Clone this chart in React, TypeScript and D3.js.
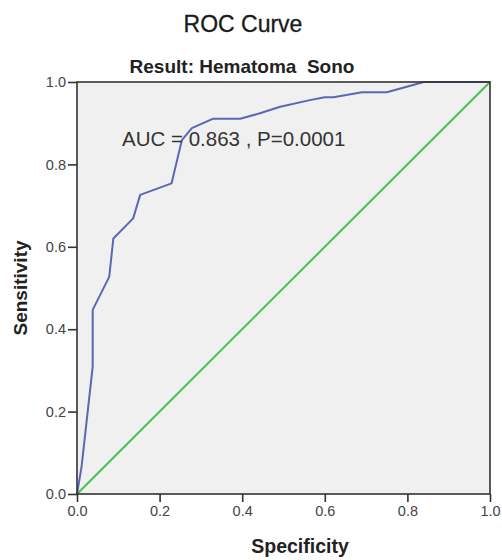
import * as d3 from "d3";
import { useRef, useEffect } from "react";

// ROC curve points (1 - specificity on x, sensitivity on y)
const fpr = [0, 0.011, 0.038, 0.038, 0.078, 0.088, 0.136, 0.153, 0.229, 0.254, 0.278, 0.33, 0.395, 0.443, 0.492, 0.564, 0.6, 0.621, 0.69, 0.75, 0.84, 1.0];
const tpr = [0, 0.066, 0.309, 0.447, 0.527, 0.62, 0.669, 0.726, 0.754, 0.859, 0.888, 0.911, 0.911, 0.924, 0.94, 0.956, 0.963, 0.963, 0.975, 0.975, 1.0, 1.0];
const refX = [0, 1];
const refY = [0, 1];
const ticks = [0, 0.2, 0.4, 0.6, 0.8, 1.0];

const W = 502;
const H = 560;
const FONT = "'Liberation Sans', Arial, sans-serif";

const App = () => {
  const axRef = useRef<SVGGElement>(null);

  const x = d3.scaleLinear().domain([0, 1]).range([77, 490]);
  const y = d3.scaleLinear().domain([0, 1]).range([494, 82]);

  const line = d3.line<number>()
    .x((d, i) => x(fpr[i]))
    .y(d => y(d));
  const refLine = d3.line<number>()
    .x((d, i) => x(refX[i]))
    .y(d => y(d));

  useEffect(() => {
    const g = d3.select(axRef.current);
    g.selectAll("*").remove();

    const fmt = d3.format(".1f");

    const yAxis = g.append("g")
      .attr("transform", `translate(${x(0)},0)`)
      .call(d3.axisLeft(y).tickValues(ticks).tickFormat(d => fmt(d as number)).tickSize(9).tickPadding(2));
    const xAxis = g.append("g")
      .attr("transform", `translate(0,${y(0)})`)
      .call(d3.axisBottom(x).tickValues(ticks).tickFormat(d => fmt(d as number)).tickSize(8).tickPadding(4));

    [yAxis, xAxis].forEach(a => {
      a.select(".domain").remove();
      a.selectAll("line").attr("stroke", "#333").attr("stroke-width", 1.6);
      a.selectAll("text")
        .attr("fill", "#444")
        .style("font-family", FONT)
        .style("font-size", "14.5px");
    });
  }, []);

  return (
    <svg width={W} height={H} style={{ position: "fixed", left: 0, top: 0, background: "#fff" }}>
      <text x={243} y={32} textAnchor="middle" fontFamily={FONT} fontSize={23} fill="#1a1a1a" stroke="#1a1a1a" strokeWidth={0.3}>ROC Curve</text>
      <text x={242} y={73} textAnchor="middle" fontFamily={FONT} fontSize={19} fontWeight="bold" fill="#222" style={{ whiteSpace: "pre" }}>
        Result: Hematoma  Sono
      </text>

      <rect x={x(0)} y={y(1)} width={x(1) - x(0)} height={y(0) - y(1)} fill="#f0f0f0" />

      <path d={refLine(refY) ?? ""} fill="none" stroke="#4cbf4c" strokeWidth={2} />
      <path d={line(tpr) ?? ""} fill="none" stroke="#5d66b4" strokeWidth={2} strokeLinejoin="round" />

      <rect x={x(0)} y={y(1)} width={x(1) - x(0)} height={y(0) - y(1)} fill="none" stroke="#333" strokeWidth={1.6} />

      <text x={122} y={146} fontFamily={FONT} fontSize={20.5} fill="#333">AUC = 0.863 , P=0.0001</text>

      <g ref={axRef} />

      <text x={300} y={553} textAnchor="middle" fontFamily={FONT} fontSize={19.5} fontWeight="bold" fill="#222">Specificity</text>
      <text transform="translate(27,288) rotate(-90)" textAnchor="middle" fontFamily={FONT} fontSize={19} fontWeight="bold" fill="#222">Sensitivity</text>
    </svg>
  );
};

export default App;
